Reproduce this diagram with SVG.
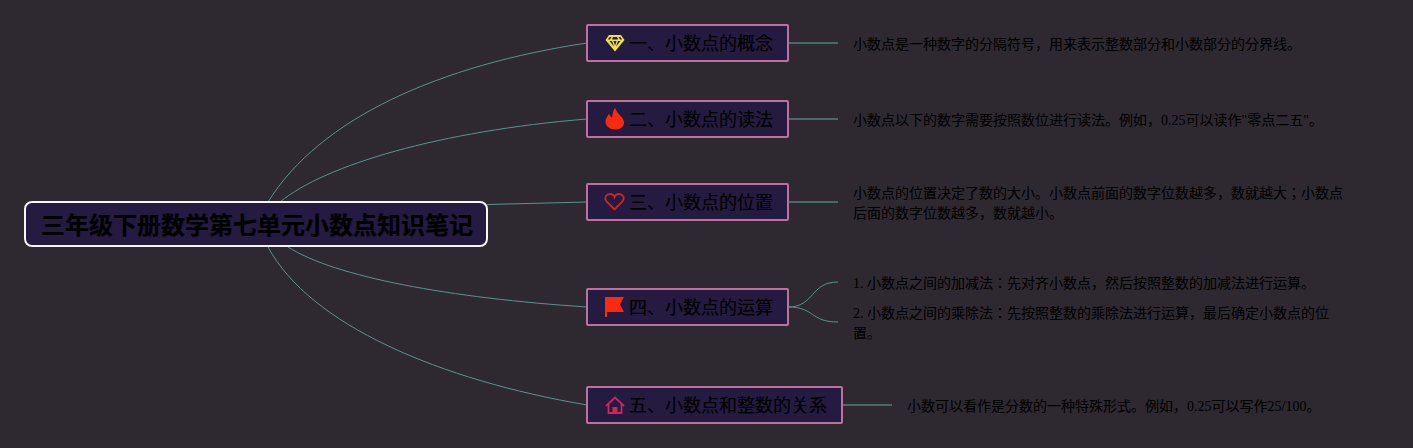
<svg xmlns="http://www.w3.org/2000/svg" width="1413" height="448" viewBox="0 0 1413 448">
<style>
text{font-family:"Liberation Serif","Noto Sans CJK JP",serif;fill:#000}
.t{font-size:14px;stroke:#000;stroke-width:.05px}
.b{font-size:18px;stroke:#000;stroke-width:.1px}
.r{font-size:24px;font-weight:700;stroke:#000;stroke-width:.2px}
.bx{fill:#251a3f;stroke:#bf709c;stroke-width:2}
.c{fill:none;stroke:#5f8f8f;stroke-width:1}
.s{fill:none;stroke:#557c7c;stroke-width:1.500}
</style>
<rect width="1413" height="448" fill="#2e2931"/>
<g id="connectors">
<path class="c" d="M268 202C320 118 440 65 587 43"/>
<path class="c" d="M280 202C325 165 440 131 587 119"/>
<path class="c" d="M487 204.500L587 202"/>
<path class="c" d="M288 247C335 277 450 298 587 307"/>
<path class="c" d="M268 247C310 325 440 380 587 405"/>
<path class="s" d="M788 43H838"/>
<path class="s" d="M788 119H838"/>
<path class="s" d="M788 202H838"/>
<path class="c" d="M788 307C815 307 810 282 838 282"/>
<path class="c" d="M788 307C815 307 810 322 838 322"/>
<path class="s" d="M842 405H892"/>
</g>
<g id="root"><rect x="25" y="202" width="462" height="44" rx="7" fill="#251a3f" stroke="#f6f6f6" stroke-width="2"/><text class="r" x="41" y="234">三年级下册数学第七单元小数点知识笔记</text></g>
<g id="n1"><rect class="bx" x="587" y="25" width="201" height="36" rx="1"/>
<path fill="#f0e040" d="M609 35H621L624.500 40L615 51.500L605.500 40Z"/>
<path fill="#251a3f" d="M609.500 41H612L614 46.500ZM618 41H620.500L616 46.500ZM613.500 41H616.500L615 45.500ZM609.500 37H611.500L610 39.500H608ZM618.500 37H620.500L622 39.500H620ZM613 37H617L618 39.500H612Z"/>
<text class="b" x="629" y="50">一、小数点的概念</text></g>
<g id="n2"><rect class="bx" x="587" y="101" width="201" height="36" rx="1"/>
<path fill="#f92a0f" d="M615 108C617 114 623.500 117 624 122C624.500 127 620 129.500 615 129.500C610 129.500 605.500 126 605.500 122C605.500 118 608 116 609 113.500C610 115.500 610.500 117 612 117.500C612.500 114 613 110.500 615 108Z"/>
<text class="b" x="629" y="126">二、小数点的读法</text></g>
<g id="n3"><rect class="bx" x="587" y="184" width="201" height="36" rx="1"/>
<path fill="none" stroke="#c42a24" stroke-width="1.800" d="M614.500 209.500L607 202C603 197 607 194 610 194C612 194 614 195.500 614.500 197C615 195.500 617 194 619 194C622 194 626 197 622 202Z"/>
<text class="b" x="629" y="209">三、小数点的位置</text></g>
<g id="n4"><rect class="bx" x="587" y="289" width="201" height="36" rx="1"/>
<path fill="#f92a0f" d="M605 297H624L620 304.500L624 312H607V317H605Z"/>
<text class="b" x="629" y="314">四、小数点的运算</text></g>
<g id="n5"><rect class="bx" x="587" y="387" width="255" height="36" rx="1"/>
<g fill="none" stroke="#d0245e" stroke-width="1.800"><path d="M606 406L615 397.500L624 406"/><path d="M608.500 404V413H621.500V404"/></g><rect x="612.500" y="407" width="5" height="6" fill="#d0245e"/>
<text class="b" x="629" y="412">五、小数点和整数的关系</text></g>
<g id="d1"><text class="t" x="853" y="49">小数点是一种数字的分隔符号，用来表示整数部分和小数部分的分界线。</text></g>
<g id="d2"><text class="t" x="853" y="125">小数点以下的数字需要按照数位进行读法。例如，0.25可以读作"零点二五"。</text></g>
<g id="d3"><text class="t" x="853" y="198">小数点的位置决定了数的大小。小数点前面的数字位数越多，数就越大；小数点</text><text class="t" x="853" y="218">后面的数字位数越多，数就越小。</text></g>
<g id="d4"><text class="t" x="853" y="288">1. 小数点之间的加减法：先对齐小数点，然后按照整数的加减法进行运算。</text></g>
<g id="d5"><text class="t" x="853" y="318">2. 小数点之间的乘除法：先按照整数的乘除法进行运算，最后确定小数点的位</text><text class="t" x="853" y="338">置。</text></g>
<g id="d6"><text class="t" x="907" y="411">小数可以看作是分数的一种特殊形式。例如，0.25可以写作25/100。</text></g>
</svg>
